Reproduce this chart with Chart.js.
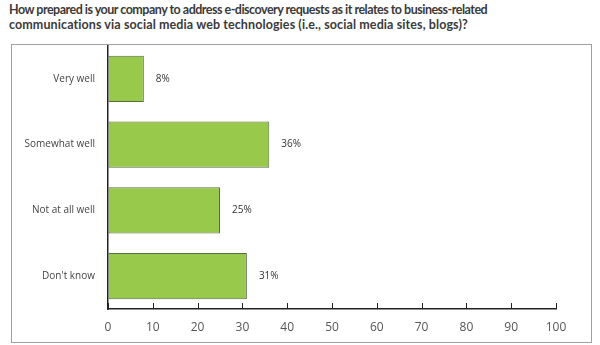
<!DOCTYPE html>
<html>
<head>
<meta charset="utf-8">
<script src="https://cdn.jsdelivr.net/npm/chart.js@4"></script>
<style>
  body { margin: 0; background: #fff; width: 600px; height: 345px; position: relative; overflow: hidden; }
  #title { position: absolute; left: 9px; top: 2px; font: bold 12.5px Lato, sans-serif; color: #3a3a3a; line-height: 15px; white-space: nowrap; }
  #title .l1 { letter-spacing: -0.5px; }
  #title .l2 { letter-spacing: 0.1px; }
  #frame { position: absolute; left: 11px; top: 44px; width: 579px; height: 297px; border: 1px solid #a0a0a0; }
  #wrap { position: absolute; left: 0; top: 0; width: 600px; height: 345px; }
</style>
</head>
<body>
<div id="title"><span class="l1">How prepared is your company to address e-discovery requests as it relates to business-related</span><br><span class="l2">communications via social media web technologies (i.e., social media sites, blogs)?</span></div>
<div id="frame"></div>
<div id="wrap"><canvas id="chart"></canvas></div>
<script>
const answers = ['Very well', 'Somewhat well', 'Not at all well', "Don't know"];
const percents = [8, 36, 25, 31];
const axisTicks = [0, 10, 20, 30, 40, 50, 60, 70, 80, 90, 100];

const barGreen = '#98c94b';
const barEdge = '#5b6b45';

// tick marks that point up into the plot, from the x scale itself
const innerTicks = {
  id: 'innerTicks',
  afterDraw(chart) {
    const ctx = chart.ctx;
    const x = chart.scales.x;
    ctx.save();
    ctx.strokeStyle = '#222';
    ctx.lineWidth = 1;
    axisTicks.forEach(v => {
      const px = Math.round(x.getPixelForValue(v)) + 0.5;
      ctx.beginPath();
      ctx.moveTo(px, x.top);
      ctx.lineTo(px, x.top - 6);
      ctx.stroke();
    });
    ctx.restore();
  }
};

// percentage text to the right of each bar
const valueLabels = {
  id: 'valueLabels',
  afterDatasetsDraw(chart) {
    const ctx = chart.ctx;
    const meta = chart.getDatasetMeta(0);
    ctx.save();
    ctx.font = '10px "Open Sans", sans-serif';
    ctx.fillStyle = '#333';
    ctx.textAlign = 'left';
    ctx.textBaseline = 'middle';
    meta.data.forEach((bar, i) => {
      ctx.fillText(percents[i] + '%', bar.x + 12, bar.y);
    });
    ctx.restore();
  }
};

new Chart(document.getElementById('chart'), {
  type: 'bar',
  data: {
    labels: answers,
    datasets: [{
      data: percents,
      backgroundColor: barGreen,
      borderColor: barEdge,
      borderWidth: 1,
      borderSkipped: false,
      barPercentage: 0.7,
      categoryPercentage: 1
    }]
  },
  options: {
    indexAxis: 'y',
    responsive: true,
    maintainAspectRatio: false,
    animation: false,
    layout: { padding: { top: 46, right: 44, left: 0, bottom: 0 } },
    plugins: { legend: { display: false }, tooltip: { enabled: false } },
    scales: {
      x: {
        min: 0,
        max: 100,
        afterBuildTicks(scale) { scale.ticks = axisTicks.map(v => ({ value: v })); },
        afterFit(scale) { scale.height = 36; },
        grid: { display: true, drawOnChartArea: false, drawTicks: false },
        border: { display: true, color: '#222', width: 1.5 },
        ticks: { padding: 11, color: '#555', font: { family: '"Open Sans", sans-serif', size: 12 } }
      },
      y: {
        afterFit(scale) { scale.width = 108; },
        grid: { display: false, drawTicks: false },
        border: { display: true, color: '#222', width: 1.5 },
        ticks: { padding: 13, color: '#444', font: { family: '"Open Sans", sans-serif', size: 10 } }
      }
    }
  },
  plugins: [innerTicks, valueLabels]
});
</script>
</body>
</html>
